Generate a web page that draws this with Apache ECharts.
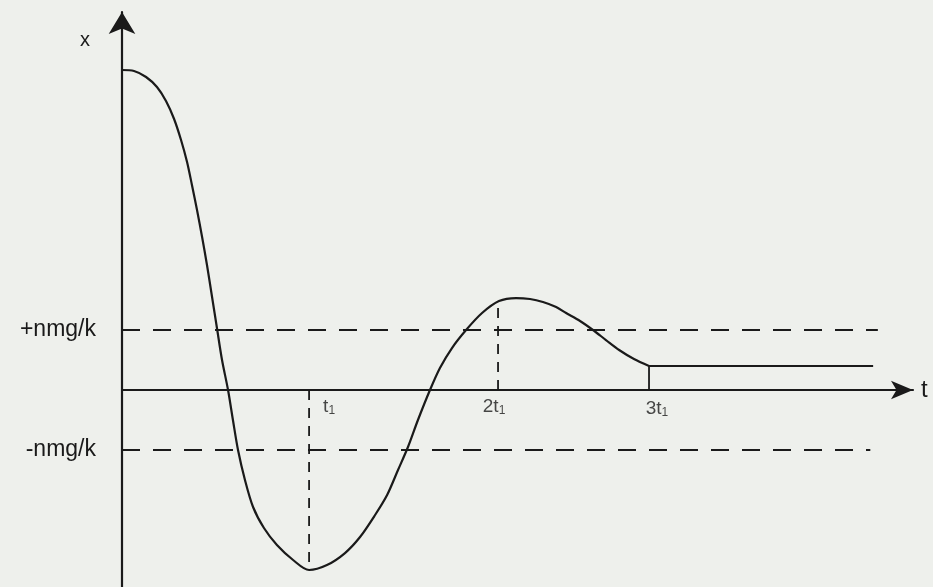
<!DOCTYPE html>
<html>
<head>
<meta charset="utf-8">
<script src="https://cdn.jsdelivr.net/npm/echarts@6/dist/echarts.min.js"></script>
<style>
  html, body { margin: 0; padding: 0; background: #eef0ec; }
  #chart { width: 933px; height: 587px; }
</style>
</head>
<body>
<div id="chart"></div>
<script>
// Damped motion x(t): time in units of t1, displacement in units of nmg/k
const curveT = [0.000, 0.064, 0.128, 0.186, 0.234, 0.277, 0.314, 0.346, 0.372, 0.399, 0.426, 0.452, 0.479, 0.505, 0.532, 0.564, 0.590, 0.617, 0.654, 0.697, 0.755, 0.824, 0.910, 0.995, 1.090, 1.186, 1.266, 1.346, 1.410, 1.468, 1.521, 1.574, 1.638, 1.691, 1.755, 1.830, 1.915, 2.005, 2.096, 2.170, 2.239, 2.309, 2.362, 2.436, 2.505, 2.574, 2.644, 2.723, 2.803];
const curveX = [5.333, 5.317, 5.217, 5.050, 4.817, 4.517, 4.167, 3.800, 3.417, 3.000, 2.550, 2.083, 1.550, 1.033, 0.500, 0.000, -0.500, -1.000, -1.500, -1.950, -2.300, -2.583, -2.833, -3.000, -2.917, -2.717, -2.450, -2.083, -1.750, -1.333, -0.950, -0.500, 0.000, 0.367, 0.700, 1.000, 1.283, 1.483, 1.533, 1.517, 1.467, 1.383, 1.283, 1.150, 1.000, 0.833, 0.667, 0.517, 0.400];

// Rest position after 3t1
const restT = [2.803, 3.995];
const restX = [0.40, 0.40];

// Dashed levels ±nmg/k
const bandLevels = [1, -1];
const bandEnds = [4.02, 3.98];
const bandLabels = ['+nmg/k', '-nmg/k'];

// Time marks on the t axis
const tickT = [0.995, 2.0, 2.803];
const tickCoef = ['', '2', '3'];
const guideTop = [-3.0, 1.49, 0.40];

const ink = '#1a1a1a';
const font = 'Liberation Sans';

const curveData = curveT.map((t, i) => [t, curveX[i]]);
const restData = restT.map((t, i) => [t, restX[i]]);

const series = [];

bandLevels.forEach((lv, i) => {
  series.push({
    type: 'line', silent: true, symbol: 'none',
    data: [[0, lv], [bandEnds[i], lv]],
    lineStyle: { color: ink, width: 1.8, type: [18, 13] },
    z: 2
  });
});

tickT.forEach((t, i) => {
  series.push({
    type: 'line', silent: true, symbol: 'none',
    data: [[t, 0], [t, guideTop[i]]],
    lineStyle: { color: ink, width: 1.8, type: i === 2 ? 'solid' : [10, 8] },
    z: 2
  });
});

series.push({
  type: 'line', silent: true, symbol: 'none', smooth: 0.3,
  data: curveData,
  lineStyle: { color: ink, width: 2.2 },
  z: 5
});
series.push({
  type: 'line', silent: true, symbol: 'none',
  data: restData,
  lineStyle: { color: ink, width: 2.2 },
  z: 5
});

const tickOffsets = [[20, 0], [-4, 0], [8, 2]];
series.push({
  type: 'scatter', silent: true, symbolSize: 0,
  data: tickT.map((t, i) => ({
    value: [t, 0],
    label: { offset: tickOffsets[i] }
  })),
  label: {
    show: true, position: 'bottom', distance: 6,
    formatter: p => '{b|' + tickCoef[p.dataIndex] + 't}{s|1}',
    rich: {
      b: { color: ink, fontFamily: font, fontSize: 19 },
      s: { color: ink, fontFamily: font, fontSize: 12, padding: [9, 0, 0, 0] }
    }
  },
  z: 6
});

const chart = echarts.init(document.getElementById('chart'), null, { renderer: 'canvas' });
chart.setOption({
  backgroundColor: '#eef0ec',
  animation: false,
  grid: { left: 122, right: 20, top: 12, bottom: 0 },
  xAxis: {
    type: 'value', min: 0, max: 4.207,
    name: 't', nameLocation: 'end', nameGap: 8,
    nameTextStyle: { color: ink, fontFamily: font, fontSize: 24, padding: [0, 0, 22, 0] },
    axisLine: { onZero: true, lineStyle: { color: ink, width: 2.2 }, symbol: ['none', 'arrow'], symbolSize: [14, 22] },
    axisTick: { show: false }, axisLabel: { show: false }, splitLine: { show: false }
  },
  yAxis: {
    type: 'value', min: -3.283, max: 6.3,
    name: 'x', nameLocation: 'end', nameGap: -38,
    nameTextStyle: { color: ink, fontFamily: font, fontSize: 20, align: 'right', padding: [0, 32, 0, 0] },
    axisLine: { onZero: false, lineStyle: { color: ink, width: 2.2 }, symbol: ['none', 'arrow'], symbolSize: [20, 22] },
    axisTick: { show: false }, splitLine: { show: false },
    axisLabel: {
      show: true, customValues: bandLevels, margin: 26,
      formatter: v => bandLabels[bandLevels.indexOf(v)],
      color: ink, fontFamily: font, fontSize: 23, padding: [0, 0, 16, 0]
    }
  },
  series: series
});
</script>
</body>
</html>
